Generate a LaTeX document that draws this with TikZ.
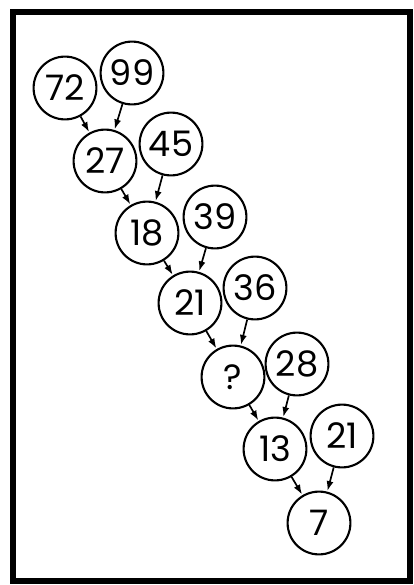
\documentclass[tikz,border=0pt]{standalone}
\usepackage{fontspec}
\setmainfont{Poppins}
\usetikzlibrary{arrows.meta}

\begin{document}
\begin{tikzpicture}[x=0.025cm,y=-0.025cm,>={Latex[length=7pt,width=5pt]},ball/.style={circle,draw=black,line width=1.5pt,fill=white,minimum size=1.57cm,inner sep=0pt,font=\fontsize{25}{28}\selectfont},link/.style={->,line width=1.2pt,shorten >=0.5pt}]
\useasboundingbox (0,0) rectangle (414,585);\draw[line width=4.5pt] (13,12) rectangle (410,581);
% left column: running results, right column: inputs
\node[ball] (n72) at (65,88) {72};\node[ball] (n99) at (132,73) {99};\node[ball] (n27) at (105,161) {27};\node[ball] (n45) at (171,144) {45};
\node[ball] (n18) at (147,233) {18};\node[ball] (n39) at (215,217) {39};\node[ball] (n21) at (190,303) {21};\node[ball] (n36) at (255,288) {36};
\node[ball] (nq) at (233,377) {?};\node[ball] (n28) at (297,364) {28};\node[ball] (n13) at (275,449) {13};\node[ball] (n21b) at (342,436) {21};\node[ball] (n7) at (319,523) {7};
\draw[link] (n72)--(n27);\draw[link] (n99)--(n27);\draw[link] (n27)--(n18);\draw[link] (n45)--(n18);\draw[link] (n18)--(n21);\draw[link] (n39)--(n21);
\draw[link] (n21)--(nq);\draw[link] (n36)--(nq);\draw[link] (nq)--(n13);\draw[link] (n28)--(n13);\draw[link] (n13)--(n7);\draw[link] (n21b)--(n7);
\end{tikzpicture}
\end{document}
